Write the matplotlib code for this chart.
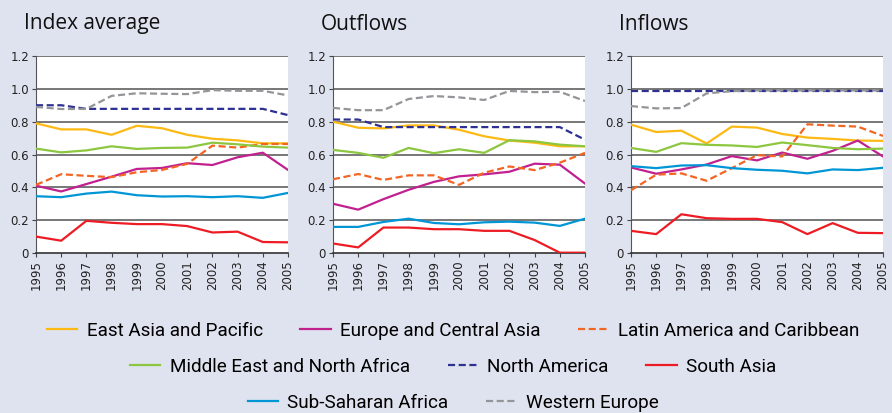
import matplotlib
matplotlib.use("Agg")
import matplotlib.pyplot as plt

years = list(range(1995, 2006))
panels = ["Index average", "Outflows", "Inflows"]
regions = ["East Asia and Pacific", "Europe and Central Asia", "Latin America and Caribbean",
           "Middle East and North Africa", "North America", "South Asia",
           "Sub-Saharan Africa", "Western Europe"]
colors = ["#FDB913", "#C0218F", "#F26522", "#8DC63F", "#2E3192", "#ED1C24", "#0096D6", "#939598"]
dashed = [False, False, True, False, True, False, False, True]

index_avg = {
    "East Asia and Pacific": [0.79, 0.753, 0.753, 0.72, 0.775, 0.76, 0.72, 0.696, 0.686, 0.668, 0.668],
    "Europe and Central Asia": [0.41, 0.375, 0.42, 0.465, 0.512, 0.518, 0.547, 0.536, 0.583, 0.611, 0.506],
    "Latin America and Caribbean": [0.415, 0.48, 0.47, 0.462, 0.492, 0.506, 0.543, 0.654, 0.642, 0.664, 0.664],
    "Middle East and North Africa": [0.636, 0.613, 0.625, 0.65, 0.634, 0.64, 0.642, 0.672, 0.662, 0.648, 0.642],
    "North America": [0.9, 0.9, 0.878, 0.878, 0.878, 0.878, 0.878, 0.878, 0.878, 0.878, 0.84],
    "South Asia": [0.1, 0.075, 0.196, 0.184, 0.176, 0.176, 0.164, 0.125, 0.13, 0.067, 0.065],
    "Sub-Saharan Africa": [0.346, 0.34, 0.362, 0.374, 0.352, 0.344, 0.346, 0.34, 0.346, 0.336, 0.366],
    "Western Europe": [0.89, 0.877, 0.878, 0.957, 0.973, 0.97, 0.968, 0.992, 0.988, 0.988, 0.96],
}
outflows = {
    "East Asia and Pacific": [0.8, 0.763, 0.759, 0.777, 0.777, 0.751, 0.711, 0.685, 0.672, 0.65, 0.65],
    "Europe and Central Asia": [0.3, 0.264, 0.328, 0.385, 0.433, 0.467, 0.479, 0.495, 0.544, 0.538, 0.423],
    "Latin America and Caribbean": [0.449, 0.481, 0.445, 0.473, 0.473, 0.415, 0.489, 0.527, 0.505, 0.55, 0.61],
    "Middle East and North Africa": [0.628, 0.61, 0.58, 0.64, 0.608, 0.632, 0.61, 0.687, 0.68, 0.66, 0.65],
    "North America": [0.813, 0.813, 0.767, 0.767, 0.767, 0.767, 0.767, 0.767, 0.767, 0.767, 0.69],
    "South Asia": [0.058, 0.034, 0.155, 0.155, 0.145, 0.145, 0.135, 0.135, 0.079, 0.002, 0.002],
    "Sub-Saharan Africa": [0.159, 0.159, 0.189, 0.209, 0.183, 0.175, 0.187, 0.191, 0.185, 0.165, 0.209],
    "Western Europe": [0.884, 0.87, 0.87, 0.938, 0.956, 0.948, 0.932, 0.987, 0.98, 0.982, 0.926],
}
inflows = {
    "East Asia and Pacific": [0.782, 0.737, 0.745, 0.667, 0.77, 0.764, 0.725, 0.703, 0.695, 0.685, 0.683],
    "Europe and Central Asia": [0.521, 0.483, 0.509, 0.539, 0.59, 0.564, 0.612, 0.574, 0.622, 0.685, 0.588],
    "Latin America and Caribbean": [0.382, 0.477, 0.485, 0.44, 0.517, 0.596, 0.588, 0.784, 0.776, 0.77, 0.713],
    "Middle East and North Africa": [0.64, 0.616, 0.669, 0.659, 0.655, 0.646, 0.673, 0.657, 0.64, 0.632, 0.636],
    "North America": [0.986, 0.986, 0.986, 0.986, 0.986, 0.986, 0.986, 0.986, 0.986, 0.986, 0.986],
    "South Asia": [0.135, 0.115, 0.236, 0.212, 0.208, 0.208, 0.188, 0.115, 0.182, 0.123, 0.121],
    "Sub-Saharan Africa": [0.529, 0.517, 0.533, 0.535, 0.517, 0.507, 0.501, 0.485, 0.509, 0.505, 0.519],
    "Western Europe": [0.895, 0.881, 0.883, 0.972, 0.986, 0.99, 0.99, 0.99, 0.99, 0.99, 0.99],
}
datasets = [index_avg, outflows, inflows]
yticks = [0, 0.2, 0.4, 0.6, 0.8, 1.0, 1.2]
ytick_labels = ["0", "0.2", "0.4", "0.6", "0.8", "1.0", "1.2"]

BG = "#DFE3EF"
W, H = 892, 413
fig = plt.figure(figsize=(W / 100, H / 100), dpi=100, facecolor=BG)

lefts = [36, 333, 631]
ax_w = 252
ax_top, ax_bot = 56, 253
title_font = ["Open Sans", "DejaVu Sans"]
legend_font = ["Roboto", "DejaVu Sans"]

handles = {}
for i, (name, data) in enumerate(zip(panels, datasets)):
    ax = fig.add_axes([lefts[i] / W, (H - ax_bot) / H, ax_w / W, (ax_bot - ax_top) / H])
    ax.set_facecolor("white")
    for j, r in enumerate(regions):
        ln, = ax.plot(years, data[r], color=colors[j], lw=1.6,
                      linestyle=(0, (3.2, 1.6)) if dashed[j] else "-", zorder=3)
        handles[r] = ln
    ax.set_xlim(1995, 2005)
    ax.set_ylim(0, 1.2)
    ax.set_xticks(years)
    ax.set_xticklabels([str(y) for y in years], rotation=90, fontsize=8.5, family="DejaVu Sans")
    ax.set_yticks(yticks)
    ax.set_yticklabels(ytick_labels, fontsize=8.5, family="DejaVu Sans")
    for t in yticks[1:]:
        ax.axhline(t, color="#606060", lw=1.2, zorder=1)
    for s in ["top", "right"]:
        ax.spines[s].set_visible(False)
    ax.spines["left"].set_color("#555555")
    ax.spines["bottom"].set_color("#333333")
    ax.spines["bottom"].set_linewidth(1.2)
    ax.tick_params(axis="both", length=3, width=0.8, color="#444444", pad=2, labelcolor="#222222")
    fig.text((lefts[i] - 12) / W, (H - 24) / H, name, fontsize=15, family=title_font,
             ha="left", va="center", color="#111111")

rows = [regions[0:3], regions[3:6], regions[6:8]]
row_y = [331, 367, 403]
for row, y in zip(rows, row_y):
    fig.legend([handles[r] for r in row], row, loc="center", bbox_to_anchor=(0.508, (H - y) / H),
               ncol=len(row), frameon=False, handlelength=1.6, handletextpad=0.5,
               columnspacing=2.0, prop={"family": legend_font, "size": 13.6},
               borderaxespad=0, borderpad=0)

fig.savefig("out.png", dpi=100, facecolor=BG)
